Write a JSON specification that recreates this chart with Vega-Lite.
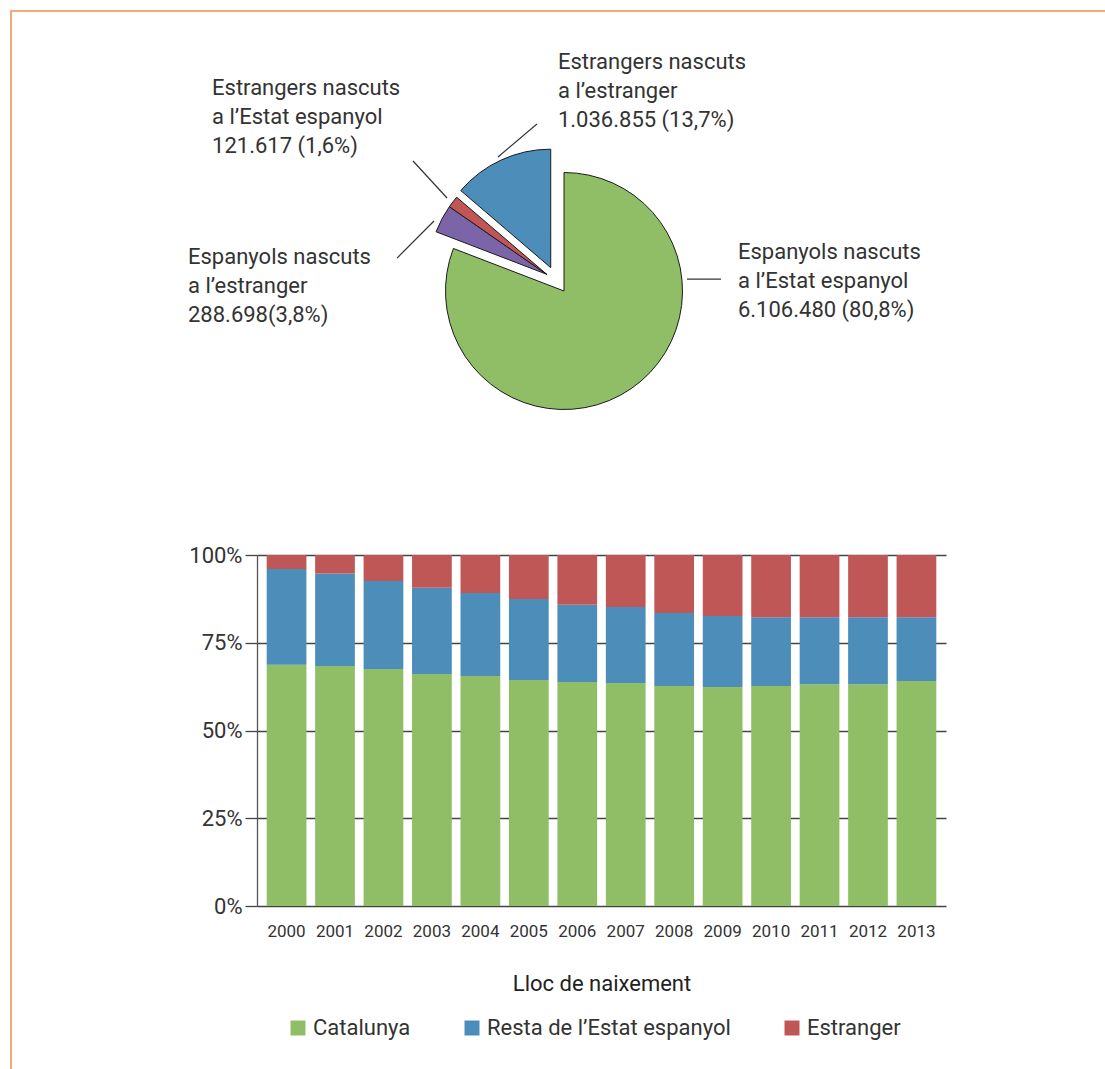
{
  "$schema": "https://vega.github.io/schema/vega-lite/v6.json",
  "background": "white",
  "padding": {"left": 10, "top": 10, "right": -88, "bottom": -8},
  "autosize": {"type": "pad"},
  "config": {
    "view": {"stroke": null},
    "font": "Roboto",
    "axis": {"labelFont": "Roboto", "titleFont": "Roboto", "labelColor": "#333333", "titleColor": "#222222"},
    "legend": {"labelFont": "Roboto", "labelColor": "#333333"}
  },
  "resolve": {"scale": {"color": "independent"}, "legend": {"color": "independent"}},
  "datasets": {
    "pastis": [
      {"grup": "Espanyols nascuts a l’Estat espanyol", "poblacio": 6106480, "ordre": 1, "etiqueta": ["Espanyols nascuts", "a l’Estat espanyol", "6.106.480 (80,8%)"]},
      {"grup": "Espanyols nascuts a l’estranger", "poblacio": 288698, "ordre": 2, "etiqueta": ["Espanyols nascuts", "a l’estranger", "288.698(3,8%)"]},
      {"grup": "Estrangers nascuts a l’Estat espanyol", "poblacio": 121617, "ordre": 3, "etiqueta": ["Estrangers nascuts", "a l’Estat espanyol", "121.617 (1,6%)"]},
      {"grup": "Estrangers nascuts a l’estranger", "poblacio": 1036855, "ordre": 4, "etiqueta": ["Estrangers nascuts", "a l’estranger", "1.036.855 (13,7%)"]}
    ],
    "barres": [
      {"any": "2000", "lloc": "Catalunya", "ordre": 1, "percentatge": 68.7},
      {"any": "2000", "lloc": "Resta de l’Estat espanyol", "ordre": 2, "percentatge": 27.3},
      {"any": "2000", "lloc": "Estranger", "ordre": 3, "percentatge": 4.0},
      {"any": "2001", "lloc": "Catalunya", "ordre": 1, "percentatge": 68.4},
      {"any": "2001", "lloc": "Resta de l’Estat espanyol", "ordre": 2, "percentatge": 26.3},
      {"any": "2001", "lloc": "Estranger", "ordre": 3, "percentatge": 5.3},
      {"any": "2002", "lloc": "Catalunya", "ordre": 1, "percentatge": 67.5},
      {"any": "2002", "lloc": "Resta de l’Estat espanyol", "ordre": 2, "percentatge": 25.1},
      {"any": "2002", "lloc": "Estranger", "ordre": 3, "percentatge": 7.4},
      {"any": "2003", "lloc": "Catalunya", "ordre": 1, "percentatge": 66.1},
      {"any": "2003", "lloc": "Resta de l’Estat espanyol", "ordre": 2, "percentatge": 24.6},
      {"any": "2003", "lloc": "Estranger", "ordre": 3, "percentatge": 9.3},
      {"any": "2004", "lloc": "Catalunya", "ordre": 1, "percentatge": 65.5},
      {"any": "2004", "lloc": "Resta de l’Estat espanyol", "ordre": 2, "percentatge": 23.7},
      {"any": "2004", "lloc": "Estranger", "ordre": 3, "percentatge": 10.8},
      {"any": "2005", "lloc": "Catalunya", "ordre": 1, "percentatge": 64.4},
      {"any": "2005", "lloc": "Resta de l’Estat espanyol", "ordre": 2, "percentatge": 23.1},
      {"any": "2005", "lloc": "Estranger", "ordre": 3, "percentatge": 12.5},
      {"any": "2006", "lloc": "Catalunya", "ordre": 1, "percentatge": 63.8},
      {"any": "2006", "lloc": "Resta de l’Estat espanyol", "ordre": 2, "percentatge": 22.0},
      {"any": "2006", "lloc": "Estranger", "ordre": 3, "percentatge": 14.2},
      {"any": "2007", "lloc": "Catalunya", "ordre": 1, "percentatge": 63.5},
      {"any": "2007", "lloc": "Resta de l’Estat espanyol", "ordre": 2, "percentatge": 21.7},
      {"any": "2007", "lloc": "Estranger", "ordre": 3, "percentatge": 14.8},
      {"any": "2008", "lloc": "Catalunya", "ordre": 1, "percentatge": 62.7},
      {"any": "2008", "lloc": "Resta de l’Estat espanyol", "ordre": 2, "percentatge": 20.8},
      {"any": "2008", "lloc": "Estranger", "ordre": 3, "percentatge": 16.5},
      {"any": "2009", "lloc": "Catalunya", "ordre": 1, "percentatge": 62.4},
      {"any": "2009", "lloc": "Resta de l’Estat espanyol", "ordre": 2, "percentatge": 20.2},
      {"any": "2009", "lloc": "Estranger", "ordre": 3, "percentatge": 17.4},
      {"any": "2010", "lloc": "Catalunya", "ordre": 1, "percentatge": 62.7},
      {"any": "2010", "lloc": "Resta de l’Estat espanyol", "ordre": 2, "percentatge": 19.6},
      {"any": "2010", "lloc": "Estranger", "ordre": 3, "percentatge": 17.7},
      {"any": "2011", "lloc": "Catalunya", "ordre": 1, "percentatge": 63.2},
      {"any": "2011", "lloc": "Resta de l’Estat espanyol", "ordre": 2, "percentatge": 19.1},
      {"any": "2011", "lloc": "Estranger", "ordre": 3, "percentatge": 17.7},
      {"any": "2012", "lloc": "Catalunya", "ordre": 1, "percentatge": 63.2},
      {"any": "2012", "lloc": "Resta de l’Estat espanyol", "ordre": 2, "percentatge": 19.1},
      {"any": "2012", "lloc": "Estranger", "ordre": 3, "percentatge": 17.7},
      {"any": "2013", "lloc": "Catalunya", "ordre": 1, "percentatge": 64.1},
      {"any": "2013", "lloc": "Resta de l’Estat espanyol", "ordre": 2, "percentatge": 18.2},
      {"any": "2013", "lloc": "Estranger", "ordre": 3, "percentatge": 17.7}
    ]
  },
  "vconcat": [
    {
      "width": 1181,
      "height": 420,
      "data": {"name": "pastis"},
      "transform": [
        {"stack": "poblacio", "groupby": [], "sort": [{"field": "ordre", "order": "ascending"}], "as": ["inici", "fi"]}
      ],
      "layer": [
        {
          "transform": [{"filter": "datum.ordre == 1"}],
          "mark": {"type": "rect", "fill": null, "stroke": "#F9A87C", "strokeWidth": 2},
          "encoding": {
            "x": {"datum": -466.67, "type": "quantitative", "scale": {"domain": [-466.67, 529.96], "nice": false, "zero": false}, "axis": null},
            "y": {"datum": 236.29, "type": "quantitative", "scale": {"domain": [-118.14, 236.29], "nice": false, "zero": false}, "axis": null},
            "x2": {"datum": 529.96},
            "y2": {"datum": -662.45}
          }
        },
        {
          "transform": [{"filter": "datum.ordre == 1"}],
          "mark": {"type": "arc", "radius": 118.5, "stroke": "#1a1a1a", "strokeWidth": 1},
          "encoding": {
            "x": {"datum": 0, "type": "quantitative"},
            "y": {"datum": 0, "type": "quantitative"},
            "theta": {"field": "inici", "type": "quantitative", "scale": {"domain": [0, 7553650]}},
            "theta2": {"field": "fi"},
            "color": {"field": "grup", "type": "nominal", "legend": null, "scale": {"domain": ["Espanyols nascuts a l’Estat espanyol", "Espanyols nascuts a l’estranger", "Estrangers nascuts a l’Estat espanyol", "Estrangers nascuts a l’estranger"], "range": ["#8FBE67", "#7B65A8", "#C05656", "#4C8DBA"]}}
          }
        },
        {
          "transform": [{"filter": "datum.ordre == 2 || datum.ordre == 3"}],
          "mark": {"type": "arc", "radius": 118.5, "stroke": "#1a1a1a", "strokeWidth": 1},
          "encoding": {
            "x": {"datum": -14.6, "type": "quantitative"},
            "y": {"datum": 14.1, "type": "quantitative"},
            "theta": {"field": "inici", "type": "quantitative"},
            "theta2": {"field": "fi"},
            "color": {"field": "grup", "type": "nominal", "legend": null}
          }
        },
        {
          "transform": [{"filter": "datum.ordre == 4"}],
          "mark": {"type": "arc", "radius": 118.5, "stroke": "#1a1a1a", "strokeWidth": 1},
          "encoding": {
            "x": {"datum": -11.2, "type": "quantitative"},
            "y": {"datum": 19.7, "type": "quantitative"},
            "theta": {"field": "inici", "type": "quantitative"},
            "theta2": {"field": "fi"},
            "color": {"field": "grup", "type": "nominal", "legend": null}
          }
        },
        {
          "transform": [{"filter": "datum.ordre == 1"}],
          "mark": {"type": "rule", "color": "#333333", "strokeWidth": 1.2},
          "encoding": {"x": {"datum": 103.8, "type": "quantitative"}, "y": {"datum": 10.1, "type": "quantitative"}, "x2": {"datum": 132.5}, "y2": {"datum": 10.1}}
        },
        {
          "transform": [{"filter": "datum.ordre == 2"}],
          "mark": {"type": "rule", "color": "#333333", "strokeWidth": 1.2},
          "encoding": {"x": {"datum": -140.9, "type": "quantitative"}, "y": {"datum": 27.8, "type": "quantitative"}, "x2": {"datum": -109.7}, "y2": {"datum": 59.1}}
        },
        {
          "transform": [{"filter": "datum.ordre == 3"}],
          "mark": {"type": "rule", "color": "#333333", "strokeWidth": 1.2},
          "encoding": {"x": {"datum": -127.4, "type": "quantitative"}, "y": {"datum": 109.7, "type": "quantitative"}, "x2": {"datum": -98.7}, "y2": {"datum": 78.5}}
        },
        {
          "transform": [{"filter": "datum.ordre == 4"}],
          "mark": {"type": "rule", "color": "#333333", "strokeWidth": 1.2},
          "encoding": {"x": {"datum": -55.7, "type": "quantitative"}, "y": {"datum": 113.1, "type": "quantitative"}, "x2": {"datum": -22.8}, "y2": {"datum": 140.9}}
        },
        {
          "transform": [{"filter": "datum.ordre == 1"}],
          "mark": {"type": "text", "align": "left", "baseline": "alphabetic", "fontSize": 22, "lineHeight": 29, "color": "#333333", "font": "Roboto"},
          "encoding": {"x": {"datum": 146.8, "type": "quantitative"}, "y": {"datum": 27.0, "type": "quantitative"}, "text": {"field": "etiqueta"}}
        },
        {
          "transform": [{"filter": "datum.ordre == 2"}],
          "mark": {"type": "text", "align": "left", "baseline": "alphabetic", "fontSize": 22, "lineHeight": 29, "color": "#333333", "font": "Roboto"},
          "encoding": {"x": {"datum": -317.3, "type": "quantitative"}, "y": {"datum": 22.8, "type": "quantitative"}, "text": {"field": "etiqueta"}}
        },
        {
          "transform": [{"filter": "datum.ordre == 3"}],
          "mark": {"type": "text", "align": "left", "baseline": "alphabetic", "fontSize": 22, "lineHeight": 29, "color": "#333333", "font": "Roboto"},
          "encoding": {"x": {"datum": -297.0, "type": "quantitative"}, "y": {"datum": 165.4, "type": "quantitative"}, "text": {"field": "etiqueta"}}
        },
        {
          "transform": [{"filter": "datum.ordre == 4"}],
          "mark": {"type": "text", "align": "left", "baseline": "alphabetic", "fontSize": 22, "lineHeight": 29, "color": "#333333", "font": "Roboto"},
          "encoding": {"x": {"datum": -5.1, "type": "quantitative"}, "y": {"datum": 187.3, "type": "quantitative"}, "text": {"field": "etiqueta"}}
        }
      ]
    },
    {
      "width": 689,
      "height": 351,
      "data": {"name": "barres"},
      "mark": {"type": "bar"},
      "encoding": {
        "x": {
          "field": "any", "type": "ordinal",
          "scale": {"paddingInner": 0.18, "paddingOuter": 0.2},
          "axis": {"title": "Lloc de naixement", "labelAngle": 0, "domain": false, "ticks": false, "labelFontSize": 17, "labelPadding": 17, "titleFontSize": 22, "titleFontWeight": "normal", "titlePadding": 34}
        },
        "y": {
          "field": "percentatge", "type": "quantitative", "stack": "zero",
          "scale": {"domain": [0, 100], "nice": false},
          "axis": {"title": null, "values": [0, 25, 50, 75, 100], "labelExpr": "datum.value + '%'", "labelFontSize": 22, "labelPadding": 3, "tickSize": 12, "tickColor": "#444444", "tickWidth": 1.3, "domainColor": "#555555", "domainWidth": 1.3, "grid": true, "gridColor": "#444444", "gridWidth": 1.3, "gridOpacity": 1}
        },
        "color": {
          "field": "lloc", "type": "nominal",
          "scale": {"domain": ["Catalunya", "Resta de l’Estat espanyol", "Estranger"], "range": ["#8FBE67", "#4C8DBA", "#C05757"]},
          "legend": {"title": null, "orient": "none", "direction": "horizontal", "legendX": 30, "legendY": 462, "symbolType": "square", "symbolSize": 225, "symbolStrokeWidth": 0, "labelFontSize": 22, "labelOffset": 4, "labelLimit": 0, "columnPadding": 50}
        },
        "order": {"field": "ordre", "type": "quantitative"}
      }
    }
  ],
  "spacing": 124,
  "bounds": "flush",
  "center": true
}
